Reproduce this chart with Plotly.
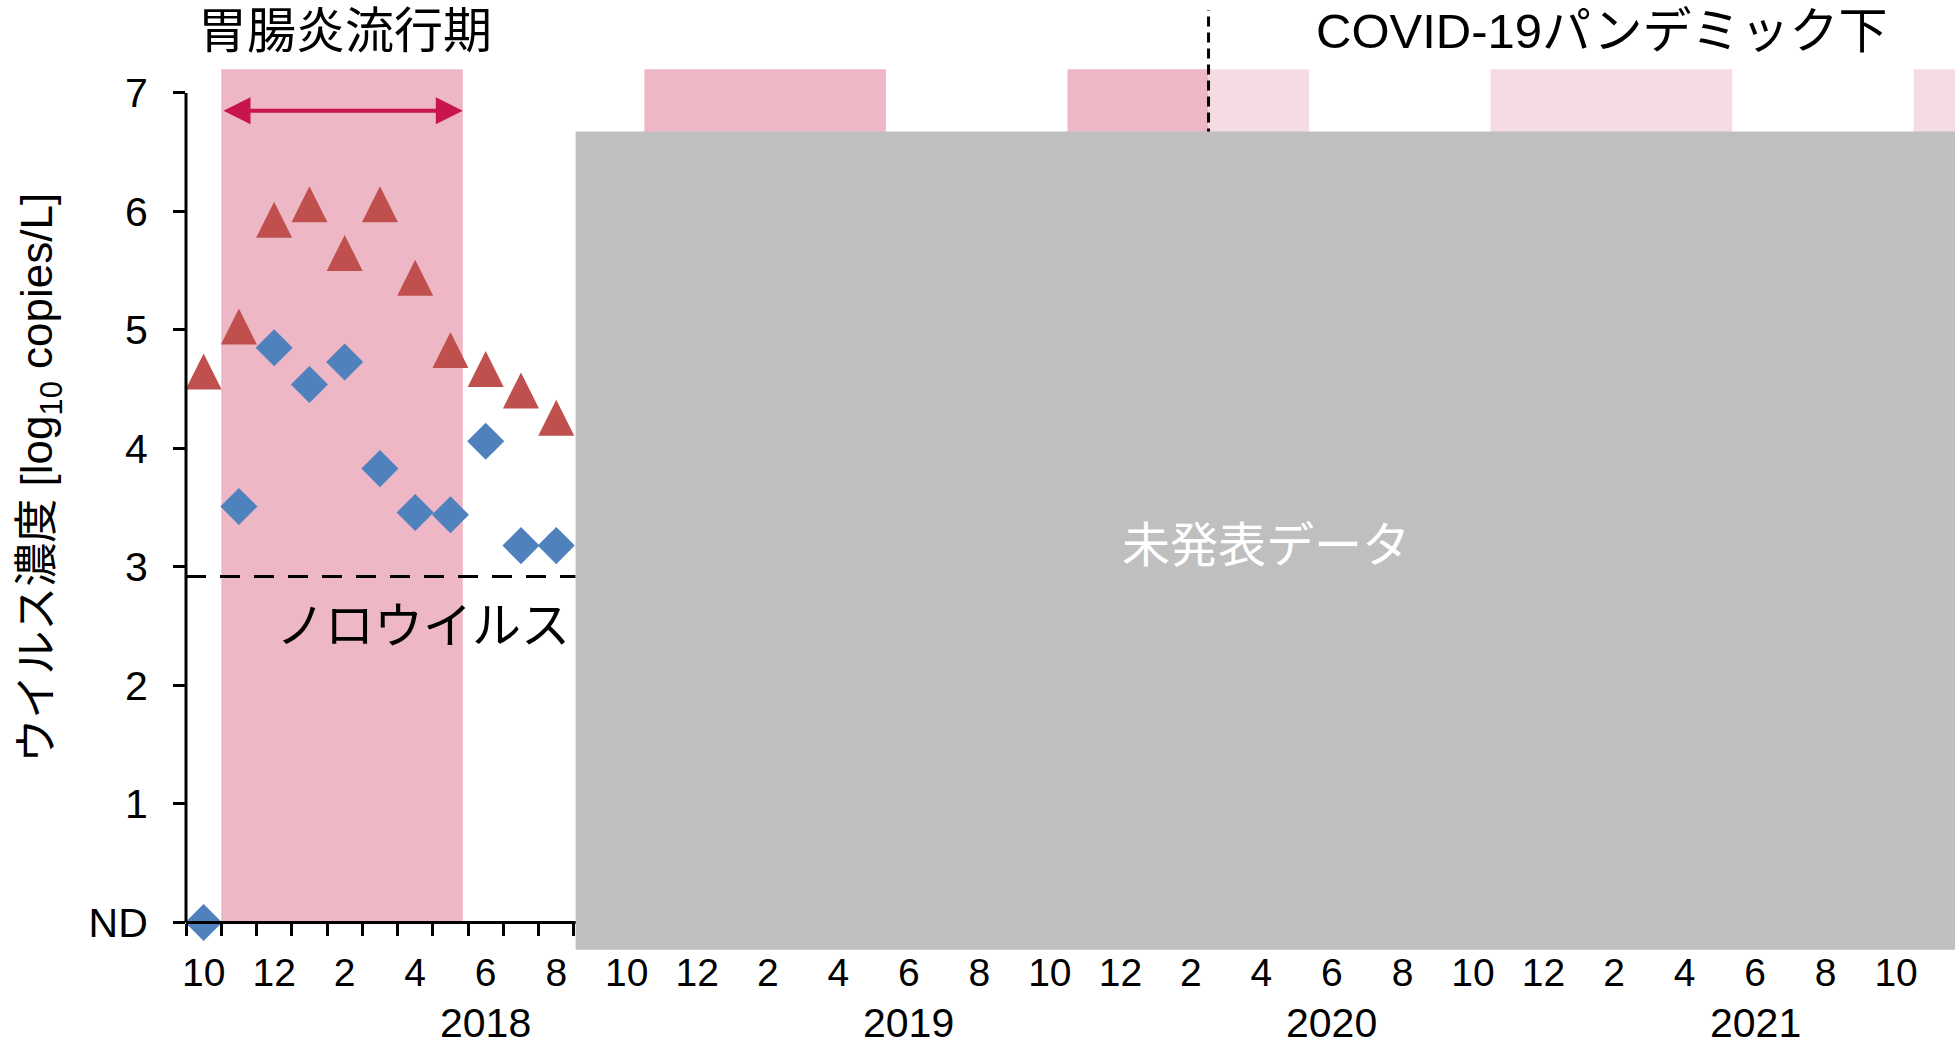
import plotly.graph_objects as go

# ---------------- data ----------------
# month categories (Oct 2017 .. Nov 2021)
months = (["2017-10", "2017-11", "2017-12"]
          + [f"{y}-{m:02d}" for y in (2018, 2019, 2020) for m in range(1, 13)]
          + [f"2021-{m:02d}" for m in range(1, 12)])

tick_months = months[::2]
tick_labels = ["10", "12", "2", "4", "6", "8", "10", "12", "2", "4", "6", "8",
               "10", "12", "2", "4", "6", "8", "10", "12", "2", "4", "6", "8", "10"]

year_labels = ["2018", "2019", "2020", "2021"]
year_label_months = ["2018-06", "2019-06", "2020-06", "2021-06"]

sample_months = ["2017-10", "2017-11", "2017-12", "2018-01", "2018-02", "2018-03",
                 "2018-04", "2018-05", "2018-06", "2018-07", "2018-08"]
series_triangle = [4.65, 5.03, 5.93, 6.06, 5.65, 6.06, 5.44, 4.83, 4.67, 4.49, 4.26]
series_diamond = [0.00, 3.51, 4.85, 4.54, 4.73, 3.83, 3.46, 3.44, 4.06, 3.18, 3.18]

y_tick_vals = [0, 1, 2, 3, 4, 5, 6, 7]
y_tick_text = ["ND", "1", "2", "3", "4", "5", "6", "7"]

detection_limit = 2.92

epidemic_starts = ["2017-11", "2018-11", "2019-11", "2020-11", "2021-11"]
epidemic_ends = ["2018-05", "2019-05", "2020-05", "2021-05", None]
pandemic_start = "2020-03"
unpublished_start = "2018-09"

# ---------------- layout constants ----------------
W, H = 1955, 1048
M_L, M_R, M_T, M_B = 186.4, 0, 9.5, 89.7
x_lo, x_hi = -0.5, 49.67
y_lo, y_hi = -0.3, 7.7
px_per_unit = (H - M_T - M_B) / (y_hi - y_lo)


def ypaper(v):
    return (v - y_lo) / (y_hi - y_lo)


FONT = "Liberation Sans, Arial, Noto Sans CJK JP"
C_TRI = "#C0504D"
C_DIA = "#4F81BD"
C_EPI = "#EEB7C5"
C_EPI_COVID = "#F5DBE2"
C_GRAY = "#BFBFBF"
C_ARROW = "#C8154B"

idx = {m: i for i, m in enumerate(months)}
sx = [idx[m] for m in sample_months]

tri_size = 36
tri_off = (tri_size / 2) / px_per_unit  # arrow-up tip sits at the point; shift axis so marker is centred

fig = go.Figure()
fig.add_trace(go.Scatter(
    x=sx, y=series_diamond, mode="markers", cliponaxis=False,
    marker=dict(symbol="diamond", size=28.5, color=C_DIA, line=dict(width=0)),
    showlegend=False, hoverinfo="skip"))
fig.add_trace(go.Scatter(
    x=sx, y=series_triangle, mode="markers", cliponaxis=False, yaxis="y2",
    marker=dict(symbol="arrow-up", size=tri_size, color=C_TRI, line=dict(width=0)),
    showlegend=False, hoverinfo="skip"))

shapes = []
pb = idx[pandemic_start] - 0.5
for s, e in zip(epidemic_starts, epidemic_ends):
    x0 = idx[s] - 0.5
    x1 = x_hi if e is None else idx[e] + 0.35
    segs = []
    if x1 <= pb:
        segs.append((x0, x1, C_EPI))
    elif x0 >= pb:
        segs.append((x0, x1, C_EPI_COVID))
    else:
        segs.append((x0, pb, C_EPI))
        segs.append((pb, x1, C_EPI_COVID))
    for a, b, c in segs:
        shapes.append(dict(type="rect", xref="x", yref="y", x0=a, x1=b, y0=0, y1=7.2,
                           fillcolor=c, line=dict(width=0), layer="below"))

gray_x0 = idx[unpublished_start] - 0.45
# detection limit line
shapes.append(dict(type="line", xref="x", yref="y", x0=x_lo, x1=gray_x0,
                   y0=detection_limit, y1=detection_limit,
                   line=dict(color="black", width=3, dash="20px,14px"), layer="below"))
# pandemic start line
shapes.append(dict(type="line", xref="x", yref="y", x0=pb, x1=pb, y0=0, y1=y_hi,
                   line=dict(color="black", width=3, dash="10px,6px"), layer="below"))
# y axis line (0..7 only)
shapes.append(dict(type="line", xref="paper", yref="paper", x0=0, x1=0,
                   y0=ypaper(0), y1=ypaper(7),
                   line=dict(color="black", width=3), layer="above"))
# unpublished data block
shapes.append(dict(type="rect", xref="x", yref="y", x0=gray_x0, x1=x_hi, y0=-0.23, y1=6.675,
                   fillcolor=C_GRAY, line=dict(width=0), layer="above"))

annotations = []
# double arrow for epidemic period
annotations.append(dict(x=idx[epidemic_ends[0]] + 0.35, y=6.85, ax=idx[epidemic_starts[0]] - 0.48, ay=6.85,
                        xref="x", yref="y", axref="x", ayref="y", text="", showarrow=True,
                        arrowhead=2, startarrowhead=2, arrowside="end+start",
                        arrowwidth=4, arrowsize=1.35, startarrowsize=1.35, arrowcolor=C_ARROW))
annotations.append(dict(x=4.0, y=7.52, xref="x", yref="y", text="胃腸炎流行期", showarrow=False,
                        font=dict(family=FONT, size=49, color="black"), xanchor="center", yanchor="middle"))
annotations.append(dict(x=39.65, y=7.52, xref="x", yref="y", text="COVID-19パンデミック下", showarrow=False,
                        font=dict(family=FONT, size=49, color="black"), xanchor="center", yanchor="middle"))
annotations.append(dict(x=10.45, y=2.5, xref="x", yref="y", text="ノロウイルス", showarrow=False,
                        font=dict(family=FONT, size=49, color="black"), xanchor="right", yanchor="middle"))
annotations.append(dict(x=30.13, y=3.18, xref="x", yref="y", text="未発表データ", showarrow=False,
                        font=dict(family=FONT, size=48, color="white"), xanchor="center", yanchor="middle"))
for lab, m in zip(year_labels, year_label_months):
    annotations.append(dict(x=idx[m], y=ypaper(-0.85), xref="x", yref="paper", text=lab, showarrow=False,
                            font=dict(family=FONT, size=41, color="black"),
                            xanchor="center", yanchor="middle"))
annotations.append(dict(x=(41 - M_L) / (W - M_L - M_R), y=ypaper(3.75), xref="paper", yref="paper",
                        text="ウイルス濃度 [log<sub>10</sub> copies/L]", textangle=-90, showarrow=False,
                        font=dict(family=FONT, size=44, color="black"),
                        xanchor="center", yanchor="middle"))

fig.update_layout(
    width=W, height=H, autosize=False,
    margin=dict(l=M_L, r=M_R, t=M_T, b=M_B, pad=0),
    plot_bgcolor="white", paper_bgcolor="white",
    showlegend=False,
    shapes=shapes, annotations=annotations,
    xaxis=dict(range=[x_lo, x_hi], anchor="free", position=ypaper(0),
               showline=True, linecolor="black", linewidth=3,
               showgrid=False, zeroline=False, automargin=False,
               tickmode="array", tickvals=[idx[m] for m in tick_months], ticktext=tick_labels,
               ticks="outside", ticklen=0, tickwidth=0, ticklabelstandoff=15,
               tickfont=dict(family=FONT, size=39, color="black"),
               minor=dict(tickmode="array", tickvals=[i - 0.5 for i in range(len(months) + 1)],
                          ticks="outside", ticklen=12, tickwidth=3, tickcolor="black", showgrid=False)),
    yaxis=dict(range=[y_lo, y_hi], showline=False, showgrid=False, zeroline=False, automargin=False,
               tickmode="array", tickvals=y_tick_vals, ticktext=y_tick_text,
               ticks="outside", ticklen=12, tickwidth=3, tickcolor="black", ticklabelstandoff=17,
               tickfont=dict(family=FONT, size=41, color="black")),
    yaxis2=dict(range=[y_lo - tri_off, y_hi - tri_off], overlaying="y", visible=False),
)

fig.write_html("out.html", config={"displayModeBar": False},
               post_script="document.body.style.margin='0px';")
